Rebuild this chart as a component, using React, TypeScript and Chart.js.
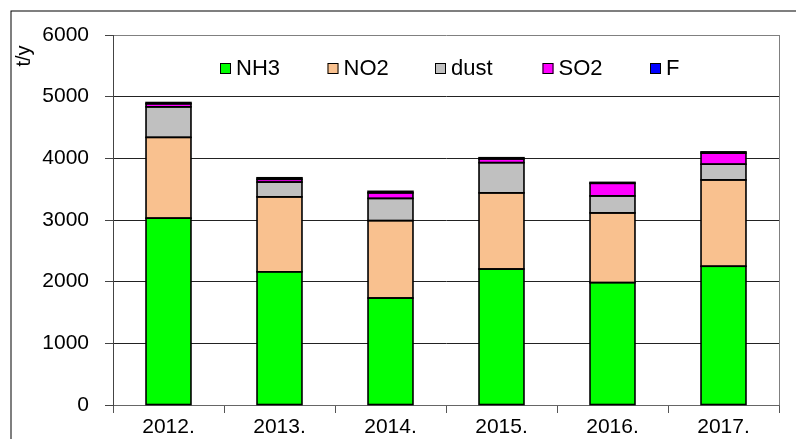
import React, { useEffect, useRef } from "react";
import { Chart, registerables } from "chart.js";

Chart.register(...registerables);

const categories = ["2012.", "2013.", "2014.", "2015.", "2016.", "2017."];
const nh3 = [3030, 2160, 1735, 2205, 1985, 2250];
const no2 = [1310, 1215, 1255, 1235, 1130, 1400];
const dust = [495, 240, 360, 490, 275, 255];
const so2 = [50, 45, 90, 60, 205, 180];
const fluor = [20, 25, 25, 20, 15, 20];
const yTicks = [0, 1000, 2000, 3000, 4000, 5000, 6000];
const seriesNames = ["NH3", "NO2", "dust", "SO2", "F"];
const seriesColors = ["#00FF00", "#F9C18F", "#C0C0C0", "#FF00FF", "#0000FF"];
const yTitle = "t/y";

const FONT = "'Liberation Sans', Arial, sans-serif";

const decorPlugin = {
  id: "decor",
  beforeDraw(chart: any) {
    const ctx = chart.ctx;
    ctx.save();
    ctx.fillStyle = "#fff";
    ctx.fillRect(0, 0, chart.width, chart.height);
    ctx.strokeStyle = "#000";
    ctx.lineWidth = 1;
    ctx.strokeRect(11, 11, chart.width + 100, chart.height + 100);
    ctx.restore();
  },
  afterDatasetsDraw(chart: any) {
    const ctx = chart.ctx;
    const area = chart.chartArea;
    ctx.save();
    // bar outlines
    ctx.strokeStyle = "#000";
    ctx.lineWidth = 1.6;
    chart.data.datasets.forEach((_ds: any, di: number) => {
      const meta = chart.getDatasetMeta(di);
      meta.data.forEach((el: any) => {
        const left = el.x - el.width / 2;
        const top = Math.min(el.y, el.base);
        const h = Math.abs(el.base - el.y);
        ctx.strokeRect(left, top, el.width, h);
      });
    });
    // plot area right border
    ctx.strokeStyle = "#808080";
    ctx.lineWidth = 1;
    ctx.beginPath();
    ctx.moveTo(area.right + 0.5, area.top);
    ctx.lineTo(area.right + 0.5, area.bottom);
    ctx.stroke();
    // legend
    ctx.font = `22px ${FONT}`;
    ctx.textBaseline = "middle";
    ctx.textAlign = "left";
    chart.data.datasets.forEach((ds: any, i: number) => {
      const bx = area.left + 107 + i * 107.5;
      const by = area.top + 28;
      ctx.fillStyle = ds.backgroundColor;
      ctx.fillRect(bx, by, 11, 11);
      ctx.strokeStyle = "#000";
      ctx.lineWidth = 1;
      ctx.strokeRect(bx + 0.5, by + 0.5, 10, 10);
      ctx.fillStyle = "#000";
      ctx.fillText(ds.label, bx + 16, by + 6);
    });
    // y title
    ctx.translate(24, 56);
    ctx.rotate(-Math.PI / 2);
    ctx.textAlign = "center";
    ctx.textBaseline = "middle";
    ctx.font = `20px ${FONT}`;
    ctx.fillStyle = "#000";
    ctx.fillText(yTitle, 0, 0);
    ctx.restore();
  },
};

export default function App() {
  const ref = useRef<HTMLCanvasElement | null>(null);
  useEffect(() => {
    if (!ref.current) return;
    const values = [nh3, no2, dust, so2, fluor];
    const chart = new Chart(ref.current, {
      type: "bar",
      data: {
        labels: categories,
        datasets: seriesNames.map((name, i) => ({
          label: name,
          data: values[i],
          backgroundColor: seriesColors[i],
          borderWidth: 0,
          barPercentage: 0.405,
          categoryPercentage: 1,
        })),
      },
      options: {
        animation: false,
        responsive: false,
        maintainAspectRatio: false,
        devicePixelRatio: 1,
        layout: { padding: { left: 0, top: 35, right: 17, bottom: 0 } },
        plugins: {
          legend: { display: false },
          tooltip: { enabled: false },
          title: { display: false },
        },
        scales: {
          x: {
            stacked: true,
            afterFit: (s: any) => {
              s.height = 34;
            },
            grid: {
              offset: true,
              drawOnChartArea: false,
              drawTicks: true,
              tickLength: 8,
              color: "#555",
            },
            border: { color: "#666", width: 1 },
            ticks: {
              color: "#000",
              padding: 2,
              font: { family: FONT, size: 21 },
              maxRotation: 0,
            },
          },
          y: {
            stacked: true,
            min: 0,
            max: 6000,
            afterFit: (s: any) => {
              s.width = 113;
            },
            afterBuildTicks: (s: any) => {
              s.ticks = yTicks.map((v) => ({ value: v }));
            },
            grid: {
              color: (c: any) =>
                c.tick && c.tick.value === 6000 ? "#808080" : "#222",
              tickColor: "#444",
              tickLength: 8,
              drawTicks: true,
            },
            border: { color: "#444", width: 1 },
            ticks: {
              color: "#000",
              padding: 16,
              font: { family: FONT, size: 21 },
              callback: (v: any) => String(v),
            },
          },
        },
      },
      plugins: [decorPlugin],
    } as any);
    return () => chart.destroy();
  }, []);
  return (
    <div style={{ position: "absolute", left: 0, top: 0, width: 796, height: 439 }}>
      <canvas ref={ref} width={796} height={439} style={{ width: 796, height: 439, display: "block" }} />
    </div>
  );
}
